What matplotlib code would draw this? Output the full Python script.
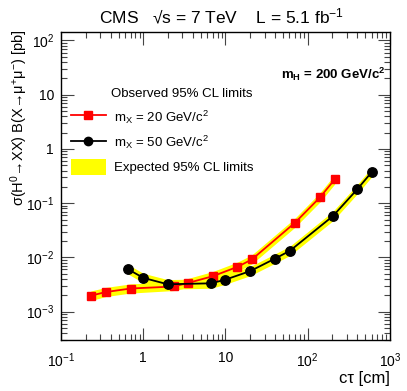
import matplotlib
matplotlib.use("Agg")
import matplotlib.pyplot as plt
from matplotlib.ticker import FixedLocator, LogLocator, NullFormatter
from matplotlib.patches import Patch
from matplotlib.lines import Line2D

plt.rcParams['font.family'] = ['Liberation Sans', 'DejaVu Sans']
plt.rcParams['mathtext.fontset'] = 'custom'
plt.rcParams['mathtext.rm'] = 'Liberation Sans'
plt.rcParams['mathtext.it'] = 'Liberation Sans:italic'
plt.rcParams['mathtext.bf'] = 'Liberation Sans:bold'

# observed limits, m_X = 20 GeV/c^2
ctau_20 = [0.23, 0.35, 0.70, 2.35, 3.5, 7.0, 14, 21, 70, 141, 213]
obs_20 = [1.97e-3, 2.3e-3, 2.67e-3, 2.91e-3, 3.38e-3, 4.5e-3, 6.7e-3, 9.2e-3, 0.0436, 0.128, 0.274]
exp_20_lo = [1.6e-3, 1.9e-3, 2.2e-3, 2.45e-3, 2.8e-3, 3.7e-3, 5.5e-3, 7.6e-3, 0.036, 0.105, 0.225]
exp_20_hi = [2.4e-3, 2.8e-3, 3.25e-3, 3.55e-3, 4.1e-3, 5.5e-3, 8.2e-3, 0.0112, 0.053, 0.156, 0.335]

# observed limits, m_X = 50 GeV/c^2
ctau_50 = [0.66, 1.0, 1.98, 6.7, 10, 20, 40, 61, 203, 400, 604]
obs_50 = [6.0e-3, 4.2e-3, 3.2e-3, 3.33e-3, 3.9e-3, 5.6e-3, 9.5e-3, 0.0133, 0.058, 0.18, 0.378]
exp_50_lo = [4.9e-3, 3.4e-3, 2.6e-3, 2.7e-3, 3.2e-3, 4.6e-3, 7.8e-3, 0.0109, 0.0475, 0.148, 0.31]
exp_50_hi = [7.3e-3, 5.1e-3, 3.9e-3, 4.05e-3, 4.75e-3, 6.8e-3, 0.0116, 0.0162, 0.071, 0.22, 0.46]

xticks = [0.1, 1, 10, 100, 1000]
xticklabels = ['$10^{-1}$', '1', '10', '$10^{2}$', '$10^{3}$']
yticks = [1e-3, 1e-2, 1e-1, 1, 10, 100]
yticklabels = ['$10^{-3}$', '$10^{-2}$', '$10^{-1}$', '1', '10', '$10^{2}$']

fig = plt.figure(figsize=(4.07, 3.91), dpi=100)
ax = fig.add_axes([0.150, 0.1304, 0.808, 0.788])

yellow = '#ffff00'
ax.fill_between(ctau_20, exp_20_lo, exp_20_hi, color=yellow, lw=0, zorder=1)
ax.fill_between(ctau_50, exp_50_lo, exp_50_hi, color=yellow, lw=0, zorder=1)
ax.plot(ctau_20, obs_20, color='#ff0000', lw=1.3, marker='s', ms=6.2,
        mec='#ff0000', mfc='#ff0000', zorder=3)
ax.plot(ctau_50, obs_50, color='black', lw=1.3, marker='o', ms=6.8,
        mec='black', mfc='black', zorder=3)

ax.set_xscale('log')
ax.set_yscale('log')
ax.set_xlim(0.1, 1000)
ax.set_ylim(3.0e-4, 144)

ax.xaxis.set_major_locator(FixedLocator(xticks))
ax.set_xticklabels(xticklabels)
ax.yaxis.set_major_locator(FixedLocator(yticks))
ax.set_yticklabels(yticklabels)
ax.xaxis.set_minor_locator(LogLocator(base=10, subs=range(2, 10), numticks=20))
ax.yaxis.set_minor_locator(LogLocator(base=10, subs=range(2, 10), numticks=20))
ax.xaxis.set_minor_formatter(NullFormatter())
ax.yaxis.set_minor_formatter(NullFormatter())
ax.tick_params(which='both', direction='in', top=True, right=True,
               labelsize=10, width=0.8, color='#444444')
ax.tick_params(which='major', length=9)
ax.tick_params(which='minor', length=4.5)
ax.tick_params(axis='x', pad=8)
ax.tick_params(axis='y', pad=5)
for s in ax.spines.values():
    s.set_linewidth(1.0)

fig.text(0.545, 0.958, 'CMS   √s = 7 TeV    L = 5.1 fb$^{-1}$',
         ha='center', va='center', fontsize=12.5)
fig.text(0.048, 0.925, 'σ(H$^{0}$→XX) B(X→μ$^{+}$μ$^{-}$) [pb]',
         rotation=90, ha='center', va='top', fontsize=10.5)
fig.text(0.958, 0.033, 'cτ [cm]', ha='right', va='center', fontsize=12)
ax.text(0.985, 0.862, '$\\mathbf{m_{H}}$ = 200 GeV/c$^{\\mathbf{2}}$',
        transform=ax.transAxes, ha='right', va='center', fontsize=9.5,
        fontweight='bold')

handles = [Line2D([], [], color='#ff0000', lw=1.3, marker='s', ms=6),
           Line2D([], [], color='black', lw=1.3, marker='o', ms=6),
           Patch(facecolor=yellow, edgecolor='none')]
labels = ['m$_{\\mathrm{X}}$ = 20 GeV/c$^{2}$', 'm$_{\\mathrm{X}}$ = 50 GeV/c$^{2}$',
          'Expected 95% CL limits']
leg = ax.legend(handles, labels, title='Observed 95% CL limits',
                loc='upper left', bbox_to_anchor=(-0.005, 0.855), frameon=False,
                fontsize=9.5, title_fontsize=9.5, handlelength=2.6,
                handleheight=1.5, labelspacing=0.6, handletextpad=0.6)
leg._legend_box.align = 'left'
leg.get_title().set_position((40, 0))

fig.savefig('out.png', dpi=100)
